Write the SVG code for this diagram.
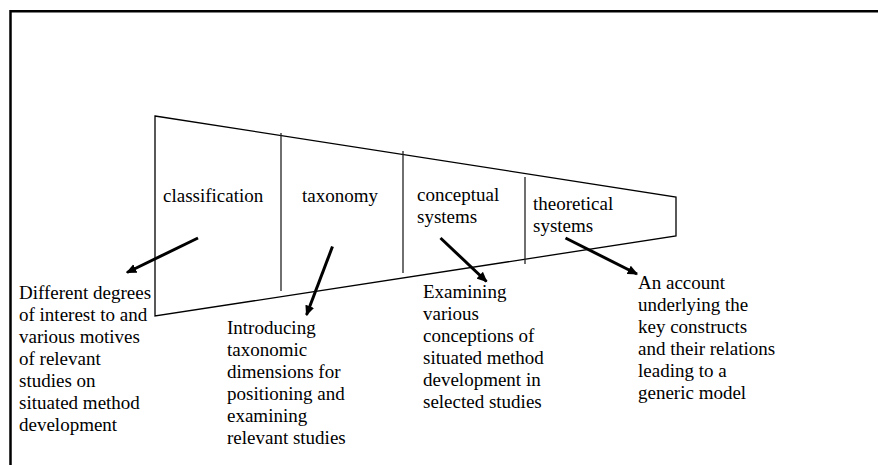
<svg xmlns="http://www.w3.org/2000/svg" width="878" height="465" viewBox="0 0 878 465">
  <style>
    .frame { fill: none; stroke: #000; stroke-width: 2.5; }
    .shape { fill: none; stroke: #000; stroke-width: 1.3; }
    .div { fill: none; stroke: #222; stroke-width: 1.3; }
    .arrow { fill: none; stroke: #000; stroke-width: 3; marker-end: url(#head); }
    .lbl { font-family: 'Liberation Serif', 'DejaVu Serif', serif; font-size: 19px; fill: #000; }
  </style>
  <defs>
    <marker id="head" markerWidth="3.6" markerHeight="3.2" refX="3.1" refY="1.55" orient="auto" markerUnits="strokeWidth">
      <path d="M0,0 L3.5,1.55 L0,3.1 Z" fill="#000"/>
    </marker>
  </defs>
  <rect x="0" y="0" width="878" height="465" fill="#fff"/>
  <!-- outer frame (top and left edges) -->
  <path class="frame" d="M10.5,465 V11.2 H878"/>

  <!-- funnel outline -->
  <g id="funnel">
    <path class="shape" d="M155,116 L676,197 L676,236 L155,316 Z"/>
    <line class="div" x1="281" y1="133" x2="281" y2="291"/>
    <line class="div" x1="403" y1="151" x2="403" y2="273"/>
    <line class="div" x1="525" y1="177" x2="525" y2="264"/>
  </g>

  <g class="lbl" font-family="Liberation Serif, DejaVu Serif, serif">
    <g id="classification">
      <text x="163" y="201.5">classification</text>
    </g>
    <g id="taxonomy">
      <text x="302" y="202">taxonomy</text>
    </g>
    <g id="conceptual">
      <text x="417" y="201">conceptual</text>
      <text x="417" y="223">systems</text>
    </g>
    <g id="theoretical">
      <text x="533" y="210">theoretical</text>
      <text x="533" y="232">systems</text>
    </g>

    <g id="note-classification">
      <text x="19" y="299">Different degrees</text>
      <text x="19" y="321">of interest to and</text>
      <text x="19" y="343">various motives</text>
      <text x="19" y="365">of relevant</text>
      <text x="19" y="387">studies on</text>
      <text x="19" y="409">situated method</text>
      <text x="19" y="431">development</text>
    </g>
    <g id="note-taxonomy">
      <text x="227" y="334">Introducing</text>
      <text x="227" y="356">taxonomic</text>
      <text x="227" y="378">dimensions for</text>
      <text x="227" y="400">positioning and</text>
      <text x="227" y="422">examining</text>
      <text x="227" y="444">relevant studies</text>
    </g>
    <g id="note-conceptual">
      <text x="423" y="298">Examining</text>
      <text x="423" y="320">various</text>
      <text x="423" y="342">conceptions of</text>
      <text x="423" y="364">situated method</text>
      <text x="423" y="386">development in</text>
      <text x="423" y="408">selected studies</text>
    </g>
    <g id="note-theoretical">
      <text x="638" y="289">An account</text>
      <text x="638" y="311">underlying the</text>
      <text x="638" y="333">key constructs</text>
      <text x="638" y="355">and their relations</text>
      <text x="638" y="377">leading to a</text>
      <text x="638" y="399">generic model</text>
    </g>
  </g>

  <g id="connectors">
    <line class="arrow" x1="198" y1="238" x2="127" y2="272.5"/>
    <line class="arrow" x1="332.5" y1="246.5" x2="306.5" y2="315"/>
    <line class="arrow" x1="440.5" y1="238" x2="486.5" y2="281.5"/>
    <line class="arrow" x1="565.5" y1="238" x2="637" y2="274"/>
  </g>
</svg>
